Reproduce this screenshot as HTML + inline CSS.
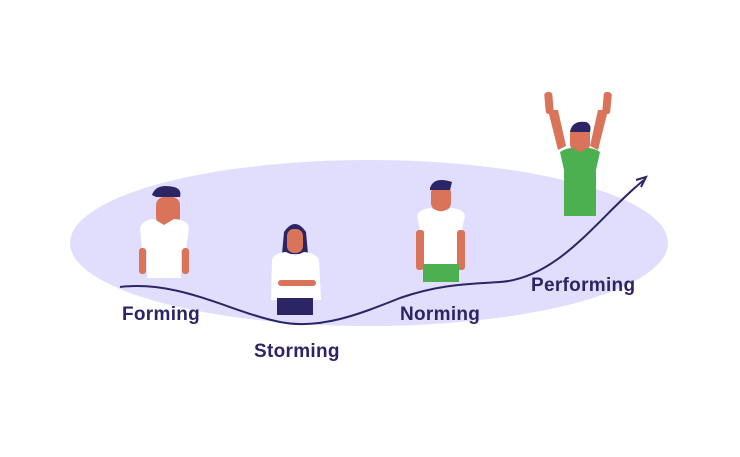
<!DOCTYPE html>
<html><head><style>
body{margin:0;background:#fff;}
svg{display:block}
text{font-family:"Liberation Sans",sans-serif;font-weight:bold;font-size:19px;fill:#2b2566;letter-spacing:0.3px}
</style></head><body>
<svg width="740" height="457" viewBox="0 0 740 457">
<ellipse cx="369" cy="243" rx="299" ry="83" fill="#e0defc"/>
<g>
<rect x="156" y="197" width="24" height="28" rx="8" fill="#d9735a"/>
<path d="M152 195 q4 -12 22 -8 q8 2 6 10 l-24 0z" fill="#2b2566"/>
<path d="M140 228 q2 -8 14 -9 l10 6 10 -6 q14 1 15 9 l-3 22 -5 0 0 28 -34 0 0 -28 -5 0z" fill="#fff"/>
<rect x="139" y="248" width="7" height="26" rx="3" fill="#d9735a"/>
<rect x="182" y="248" width="7" height="26" rx="3" fill="#d9735a"/>
</g>
<g>
<path d="M284 232 q11 -16 22 0 l2 22 -26 0z" fill="#2b2566"/>
<rect x="287" y="229" width="16" height="24" rx="7" fill="#d9735a"/>
<path d="M272 260 q2 -7 14 -8 l9 4 9 -4 q12 1 15 8 l2 40 -50 0z" fill="#fff"/>
<rect x="278" y="280" width="38" height="6" rx="3" fill="#d9735a"/>
<rect x="277" y="298" width="36" height="17" fill="#2b2566"/>
</g>
<g>
<rect x="431" y="185" width="20" height="26" rx="8" fill="#d9735a"/>
<path d="M430 188 q4 -12 22 -6 l-2 8 -20 0z" fill="#2b2566"/>
<path d="M417 216 q2 -7 14 -8 l10 4 10 -4 q13 1 14 8 l-3 14 -4 0 0 34 -34 0 0 -34 -4 0z" fill="#fff"/>
<rect x="416" y="230" width="8" height="40" rx="3" fill="#d9735a"/>
<rect x="457" y="230" width="8" height="40" rx="3" fill="#d9735a"/>
<rect x="423" y="264" width="36" height="18" fill="#4caf50"/>
</g>
<g>
<rect x="545" y="92" width="8" height="22" rx="3" fill="#d9735a" transform="rotate(-5 549 103)"/>
<rect x="603" y="92" width="8" height="22" rx="3" fill="#d9735a" transform="rotate(5 607 103)"/>
<path d="M548 110 l10 40 8 -4 -8 -36z" fill="#d9735a"/>
<path d="M608 110 l-10 40 -8 -4 8 -36z" fill="#d9735a"/>
<rect x="570" y="126" width="20" height="26" rx="8" fill="#d9735a"/>
<path d="M570 132 q2 -12 16 -10 q6 2 4 10z" fill="#2b2566"/>
<path d="M560 152 q6 -4 12 -4 l8 4 8 -4 q6 0 12 4 l-4 18 0 46 -32 0 0 -46z" fill="#4caf50"/>
</g>
<path d="M120 287 C180 280 230 312 280 322 C320 330 360 314 400 298 C440 284 470 284 500 282 C560 278 600 215 644 180" fill="none" stroke="#2b2566" stroke-width="2"/>
<path d="M636 180 L646 177 L641 187" fill="none" stroke="#2b2566" stroke-width="2"/>
<text x="122" y="320">Forming</text>
<text x="254" y="357">Storming</text>
<text x="400" y="320">Norming</text>
<text x="531" y="291">Performing</text>
</svg>
</body></html>
